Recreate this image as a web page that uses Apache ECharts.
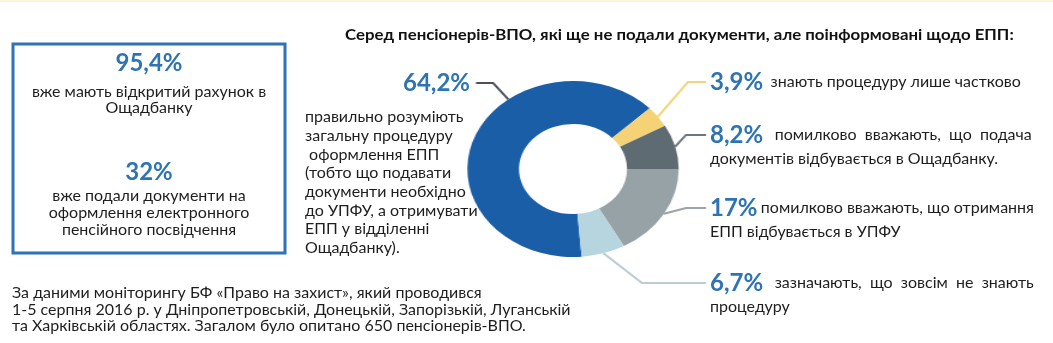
<!DOCTYPE html>
<html>
<head>
<meta charset="utf-8">
<script src="https://cdn.jsdelivr.net/npm/echarts@6/dist/echarts.min.js"></script>
<style>
html,body{margin:0;padding:0;background:#fff;overflow:hidden;}
#wrap{position:relative;width:1053px;height:343px;}
#chart{position:absolute;left:0;top:0;width:1053px;height:343px;}
#pie{position:absolute;left:0;top:0;width:877px;height:343px;transform:scaleX(1.2007);transform-origin:0 0;pointer-events:none;}
</style>
</head>
<body>
<div id="wrap"><div id="chart"></div><div id="pie"></div></div>
<script>
// ---- data ----
var title = 'Серед пенсіонерів-ВПО, які ще не подали документи, але поінформовані щодо ЕПП:';
var categories = ['правильно розуміють', 'знають частково', 'помилково: Ощадбанк', 'помилково: УПФУ', 'не знають'];
var values = [64.2, 3.9, 8.2, 17, 6.7];
var valueLabels = ['64,2%', '3,9%', '8,2%', '17%', '6,7%'];
var sliceDescriptions = [
  '',
  ' знають процедуру лише частково',
  '  помилково  вважають,  що  подача\nдокументів відбувається в Ощадбанку.',
  'помилково вважають, що отримання\nЕПП відбувається в УПФУ',
  '  зазначають,  що  зовсім  не  знають\nпроцедуру'
];
var mainDescription = ['правильно розуміють', 'загальну процедуру', ' оформлення ЕПП', '(тобто що подавати',
  'документи необхідно', 'до УПФУ, а отримувати', 'ЕПП у відділенні', 'Ощадбанку).'];
var boxStats = ['95,4%', '32%'];
var boxTexts = [['вже мають відкритий рахунок в', 'Ощадбанку'],
                ['вже подали документи на', 'оформлення електронного', 'пенсійного посвідчення']];
var footnote = ['За даними моніторингу БФ «Право на захист», який проводився',
  '1-5 серпня 2016 р. у Дніпропетровській, Донецькій, Запорізькій, Луганській',
  'та Харківській областях. Загалом було опитано 650 пенсіонерів-ВПО.'];

// ---- styles / layout ----
var colors = ['#1b5ea8', '#f6d276', '#5e6b73', '#97a2a7', '#b6d5de'];
var lineColors = ['#46535c', '#f3d47c', '#6c767c', '#9aa4a9', '#b9cdd3'];
var FONT = 'Lato, "Open Sans", sans-serif';
var BLUE = '#2e74b5';
var TXT = '#1e1e1e';
var SX = 1.2007;                 // horizontal stretch of the donut layer
var CX = 573 / SX, CY = 169, R0 = 45, R1 = 88;
// label anchor positions (page px): [x, y of first line]
var labelPos = [[476, 83], [706, 82], [706, 135], [706, 208], [706, 283]];
var length2s = [17, 18, 20, 20, 64];

// ---------- main layer: texts & frame ----------
var chart = echarts.init(document.getElementById('chart'), null, {renderer: 'canvas'});
var g = [];
g.push({type: 'rect', shape: {x: 0, y: 0, width: 1053, height: 2}, style: {fill: '#fdf3d6'}, silent: true});
g.push({type: 'text', x: 345, y: 35, scaleX: 1.12,
  style: {text: title, font: 'bold 15px ' + FONT, fill: '#111', textAlign: 'left', textVerticalAlign: 'middle'}});
// left box
g.push({type: 'rect', shape: {x: 13, y: 44, width: 272, height: 209}, style: {fill: 'none', stroke: BLUE, lineWidth: 3}});
g.push({type: 'text', x: 149, y: 63, style: {text: boxStats[0], font: 'bold 24px ' + FONT, fill: BLUE, textAlign: 'center', textVerticalAlign: 'middle'}});
boxTexts[0].forEach(function (t, k) {
  g.push({type: 'text', x: 149, y: 92 + k * 16, style: {text: t, font: '16px ' + FONT, fill: TXT, textAlign: 'center', textVerticalAlign: 'middle'}});
});
g.push({type: 'text', x: 149, y: 172, style: {text: boxStats[1], font: 'bold 24px ' + FONT, fill: BLUE, textAlign: 'center', textVerticalAlign: 'middle'}});
boxTexts[1].forEach(function (t, k) {
  g.push({type: 'text', x: 149, y: 196 + k * 17, style: {text: t, font: '16px ' + FONT, fill: TXT, textAlign: 'center', textVerticalAlign: 'middle'}});
});
// main slice label + description
g.push({type: 'text', x: 470, y: labelPos[0][1], style: {text: valueLabels[0], font: 'bold 24px ' + FONT, fill: BLUE, textAlign: 'right', textVerticalAlign: 'middle'}});
mainDescription.forEach(function (t, k) {
  g.push({type: 'text', x: 305, y: 117 + k * 18.7, style: {text: t, font: '16px ' + FONT, fill: TXT, textAlign: 'left', textVerticalAlign: 'middle'}});
});
// right-side slice labels
for (var i = 1; i < values.length; i++) {
  var lines = sliceDescriptions[i].split('\n');
  var s = '{p|' + valueLabels[i] + '} {t|' + lines[0] + '}';
  for (var k = 1; k < lines.length; k++) s += '\n{t|' + lines[k] + '}';
  g.push({type: 'text', x: 710, y: labelPos[i][1] - 13, style: {
    text: s, textAlign: 'left', textVerticalAlign: 'top',
    rich: {
      p: {fontFamily: FONT, fontSize: 24, fontWeight: 'bold', fill: BLUE, lineHeight: 26},
      t: {fontFamily: FONT, fontSize: 16, fill: TXT, lineHeight: 22}
    }
  }});
}
// footnote
footnote.forEach(function (t, k) {
  g.push({type: 'text', x: 12, y: 293 + k * 16.5, style: {text: t, font: '16px ' + FONT, fill: TXT, textAlign: 'left', textVerticalAlign: 'middle'}});
});
chart.setOption({backgroundColor: '#ffffff', animation: false, graphic: g});

// ---------- donut layer (stretched horizontally like the reference) ----------
var pie = echarts.init(document.getElementById('pie'), null, {renderer: 'canvas'});
var total = values.reduce(function (a, b) { return a + b; }, 0);
var startAngle = (values[0] + values[1] + values[2]) / total * 360;
var pieData = values.map(function (v, i) {
  return {
    name: categories[i],
    value: v,
    itemStyle: {color: colors[i]},
    labelLine: {length2: length2s[i] / SX, lineStyle: {color: lineColors[i], width: 2}}
  };
});
var blankAnchor = new Array(31).join('\u00a0');
pie.setOption({
  backgroundColor: 'transparent',
  animation: false,
  series: [{
    type: 'pie',
    center: [CX, CY],
    radius: [R0, R1],
    startAngle: startAngle,
    clockwise: true,
    avoidLabelOverlap: false,
    data: pieData,
    // invisible wide anchor boxes; the visible texts are drawn on the main layer
    label: {show: true, position: 'outside', formatter: blankAnchor, fontSize: 16, fontFamily: FONT, color: 'rgba(0,0,0,0)'},
    labelLine: {show: true, length: 15, length2: 15, minTurnAngle: 0, maxSurfaceAngle: 180},
    labelLayout: function (params) {
      var i = params.dataIndex;
      var pos = labelPos[i];
      var out = {x: pos[0] / SX, y: pos[1], align: i === 0 ? 'right' : 'left', verticalAlign: 'middle'};
      if (i === 0) {
        // guide line: label edge -> short horizontal -> outer rim of the ring
        var p0 = [pos[0] / SX, pos[1]];
        var p1 = [(pos[0] + length2s[0]) / SX, pos[1]];
        var dx = p1[0] - CX, dy = p1[1] - CY, d = Math.sqrt(dx * dx + dy * dy);
        var p2 = [CX + dx / d * R1, CY + dy / d * R1];
        out.labelLinePoints = [p2, p1, p0];
      }
      return out;
    },
    emphasis: {disabled: true}
  }]
});
</script>
</body>
</html>
